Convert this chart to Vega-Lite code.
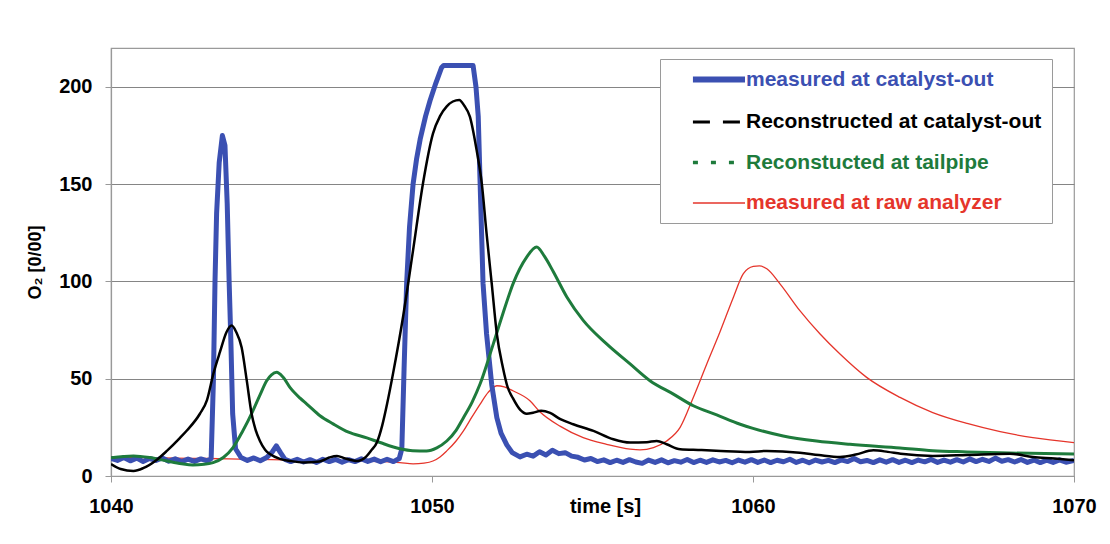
{
  "$schema": "https://vega.github.io/schema/vega-lite/v6.json",
  "width": 963,
  "height": 428,
  "autosize": "none",
  "padding": {"left": 111, "top": 48, "right": 36, "bottom": 68},
  "background": "white",
  "config": {
    "font": "Liberation Sans",
    "view": {"stroke": "#9a9a9a", "strokeWidth": 1.2},
    "axis": {"labelFont": "Liberation Sans", "titleFont": "Liberation Sans"}
  },
  "datasets": {
    "o2": [
      {"t": 1040.0, "o2": 9, "series": "measured at catalyst-out"},
      {"t": 1040.2, "o2": 8, "series": "measured at catalyst-out"},
      {"t": 1040.4, "o2": 9.5, "series": "measured at catalyst-out"},
      {"t": 1040.6, "o2": 7.8, "series": "measured at catalyst-out"},
      {"t": 1040.8, "o2": 9.2, "series": "measured at catalyst-out"},
      {"t": 1041.0, "o2": 7.5, "series": "measured at catalyst-out"},
      {"t": 1041.2, "o2": 9, "series": "measured at catalyst-out"},
      {"t": 1041.4, "o2": 8, "series": "measured at catalyst-out"},
      {"t": 1041.6, "o2": 9.3, "series": "measured at catalyst-out"},
      {"t": 1041.8, "o2": 7.6, "series": "measured at catalyst-out"},
      {"t": 1042.0, "o2": 8.8, "series": "measured at catalyst-out"},
      {"t": 1042.2, "o2": 7.4, "series": "measured at catalyst-out"},
      {"t": 1042.4, "o2": 8.7, "series": "measured at catalyst-out"},
      {"t": 1042.6, "o2": 7.5, "series": "measured at catalyst-out"},
      {"t": 1042.8, "o2": 8.8, "series": "measured at catalyst-out"},
      {"t": 1043.0, "o2": 7.8, "series": "measured at catalyst-out"},
      {"t": 1043.12, "o2": 9, "series": "measured at catalyst-out"},
      {"t": 1043.19, "o2": 49, "series": "measured at catalyst-out"},
      {"t": 1043.24, "o2": 100, "series": "measured at catalyst-out"},
      {"t": 1043.29, "o2": 135, "series": "measured at catalyst-out"},
      {"t": 1043.37, "o2": 161, "series": "measured at catalyst-out"},
      {"t": 1043.47, "o2": 175, "series": "measured at catalyst-out"},
      {"t": 1043.55, "o2": 170, "series": "measured at catalyst-out"},
      {"t": 1043.62, "o2": 140, "series": "measured at catalyst-out"},
      {"t": 1043.68, "o2": 100, "series": "measured at catalyst-out"},
      {"t": 1043.73, "o2": 72, "series": "measured at catalyst-out"},
      {"t": 1043.79, "o2": 32, "series": "measured at catalyst-out"},
      {"t": 1043.88, "o2": 14, "series": "measured at catalyst-out"},
      {"t": 1044.05, "o2": 9.5, "series": "measured at catalyst-out"},
      {"t": 1044.25, "o2": 8, "series": "measured at catalyst-out"},
      {"t": 1044.45, "o2": 9.3, "series": "measured at catalyst-out"},
      {"t": 1044.65, "o2": 7.8, "series": "measured at catalyst-out"},
      {"t": 1044.85, "o2": 9.5, "series": "measured at catalyst-out"},
      {"t": 1045.03, "o2": 12.5, "series": "measured at catalyst-out"},
      {"t": 1045.15, "o2": 15.5, "series": "measured at catalyst-out"},
      {"t": 1045.28, "o2": 12, "series": "measured at catalyst-out"},
      {"t": 1045.42, "o2": 8.5, "series": "measured at catalyst-out"},
      {"t": 1045.6, "o2": 7.4, "series": "measured at catalyst-out"},
      {"t": 1045.8, "o2": 8.6, "series": "measured at catalyst-out"},
      {"t": 1046.0, "o2": 7.2, "series": "measured at catalyst-out"},
      {"t": 1046.2, "o2": 8.4, "series": "measured at catalyst-out"},
      {"t": 1046.4, "o2": 7, "series": "measured at catalyst-out"},
      {"t": 1046.6, "o2": 8.6, "series": "measured at catalyst-out"},
      {"t": 1046.8, "o2": 7.4, "series": "measured at catalyst-out"},
      {"t": 1047.0, "o2": 8.5, "series": "measured at catalyst-out"},
      {"t": 1047.2, "o2": 7.1, "series": "measured at catalyst-out"},
      {"t": 1047.4, "o2": 8.4, "series": "measured at catalyst-out"},
      {"t": 1047.6, "o2": 7.4, "series": "measured at catalyst-out"},
      {"t": 1047.8, "o2": 8.8, "series": "measured at catalyst-out"},
      {"t": 1048.0, "o2": 7.5, "series": "measured at catalyst-out"},
      {"t": 1048.2, "o2": 8.7, "series": "measured at catalyst-out"},
      {"t": 1048.4, "o2": 7.3, "series": "measured at catalyst-out"},
      {"t": 1048.6, "o2": 8.6, "series": "measured at catalyst-out"},
      {"t": 1048.8, "o2": 7.4, "series": "measured at catalyst-out"},
      {"t": 1048.98, "o2": 9, "series": "measured at catalyst-out"},
      {"t": 1049.06, "o2": 14, "series": "measured at catalyst-out"},
      {"t": 1049.13, "o2": 55, "series": "measured at catalyst-out"},
      {"t": 1049.21, "o2": 99, "series": "measured at catalyst-out"},
      {"t": 1049.3, "o2": 128, "series": "measured at catalyst-out"},
      {"t": 1049.41, "o2": 150, "series": "measured at catalyst-out"},
      {"t": 1049.52, "o2": 163, "series": "measured at catalyst-out"},
      {"t": 1049.63, "o2": 173, "series": "measured at catalyst-out"},
      {"t": 1049.8, "o2": 185, "series": "measured at catalyst-out"},
      {"t": 1049.94, "o2": 193, "series": "measured at catalyst-out"},
      {"t": 1050.12, "o2": 202, "series": "measured at catalyst-out"},
      {"t": 1050.3, "o2": 210, "series": "measured at catalyst-out"},
      {"t": 1050.36, "o2": 211, "series": "measured at catalyst-out"},
      {"t": 1051.28, "o2": 211, "series": "measured at catalyst-out"},
      {"t": 1051.37, "o2": 200, "series": "measured at catalyst-out"},
      {"t": 1051.44, "o2": 185, "series": "measured at catalyst-out"},
      {"t": 1051.5, "o2": 150, "series": "measured at catalyst-out"},
      {"t": 1051.59, "o2": 99, "series": "measured at catalyst-out"},
      {"t": 1051.7, "o2": 73, "series": "measured at catalyst-out"},
      {"t": 1051.86, "o2": 47, "series": "measured at catalyst-out"},
      {"t": 1052.02, "o2": 30, "series": "measured at catalyst-out"},
      {"t": 1052.15, "o2": 22, "series": "measured at catalyst-out"},
      {"t": 1052.33, "o2": 16, "series": "measured at catalyst-out"},
      {"t": 1052.5, "o2": 12, "series": "measured at catalyst-out"},
      {"t": 1052.74, "o2": 9.8, "series": "measured at catalyst-out"},
      {"t": 1052.95, "o2": 11.2, "series": "measured at catalyst-out"},
      {"t": 1053.15, "o2": 10.2, "series": "measured at catalyst-out"},
      {"t": 1053.35, "o2": 12.5, "series": "measured at catalyst-out"},
      {"t": 1053.55, "o2": 10.8, "series": "measured at catalyst-out"},
      {"t": 1053.75, "o2": 13.2, "series": "measured at catalyst-out"},
      {"t": 1053.95, "o2": 11.5, "series": "measured at catalyst-out"},
      {"t": 1054.15, "o2": 12, "series": "measured at catalyst-out"},
      {"t": 1054.35, "o2": 10.2, "series": "measured at catalyst-out"},
      {"t": 1054.55, "o2": 9.6, "series": "measured at catalyst-out"},
      {"t": 1054.75, "o2": 8.2, "series": "measured at catalyst-out"},
      {"t": 1054.95, "o2": 9, "series": "measured at catalyst-out"},
      {"t": 1055.15, "o2": 7.4, "series": "measured at catalyst-out"},
      {"t": 1055.35, "o2": 8.3, "series": "measured at catalyst-out"},
      {"t": 1055.55, "o2": 6.9, "series": "measured at catalyst-out"},
      {"t": 1055.75, "o2": 8.1, "series": "measured at catalyst-out"},
      {"t": 1055.95, "o2": 7, "series": "measured at catalyst-out"},
      {"t": 1056.15, "o2": 8.4, "series": "measured at catalyst-out"},
      {"t": 1056.35, "o2": 7.2, "series": "measured at catalyst-out"},
      {"t": 1056.55, "o2": 6.5, "series": "measured at catalyst-out"},
      {"t": 1056.75, "o2": 8.2, "series": "measured at catalyst-out"},
      {"t": 1056.95, "o2": 7, "series": "measured at catalyst-out"},
      {"t": 1057.15, "o2": 8.3, "series": "measured at catalyst-out"},
      {"t": 1057.35, "o2": 6.8, "series": "measured at catalyst-out"},
      {"t": 1057.55, "o2": 7.9, "series": "measured at catalyst-out"},
      {"t": 1057.75, "o2": 7.1, "series": "measured at catalyst-out"},
      {"t": 1057.95, "o2": 8.5, "series": "measured at catalyst-out"},
      {"t": 1058.15, "o2": 6.9, "series": "measured at catalyst-out"},
      {"t": 1058.35, "o2": 8.1, "series": "measured at catalyst-out"},
      {"t": 1058.55, "o2": 7, "series": "measured at catalyst-out"},
      {"t": 1058.75, "o2": 8.3, "series": "measured at catalyst-out"},
      {"t": 1058.95, "o2": 7.2, "series": "measured at catalyst-out"},
      {"t": 1059.15, "o2": 8, "series": "measured at catalyst-out"},
      {"t": 1059.35, "o2": 6.8, "series": "measured at catalyst-out"},
      {"t": 1059.55, "o2": 8.2, "series": "measured at catalyst-out"},
      {"t": 1059.75, "o2": 7.1, "series": "measured at catalyst-out"},
      {"t": 1059.95, "o2": 8.4, "series": "measured at catalyst-out"},
      {"t": 1060.15, "o2": 7, "series": "measured at catalyst-out"},
      {"t": 1060.35, "o2": 8.2, "series": "measured at catalyst-out"},
      {"t": 1060.55, "o2": 6.9, "series": "measured at catalyst-out"},
      {"t": 1060.75, "o2": 8.1, "series": "measured at catalyst-out"},
      {"t": 1060.95, "o2": 7.3, "series": "measured at catalyst-out"},
      {"t": 1061.15, "o2": 8.6, "series": "measured at catalyst-out"},
      {"t": 1061.35, "o2": 7, "series": "measured at catalyst-out"},
      {"t": 1061.55, "o2": 8.1, "series": "measured at catalyst-out"},
      {"t": 1061.75, "o2": 6.8, "series": "measured at catalyst-out"},
      {"t": 1061.95, "o2": 8.2, "series": "measured at catalyst-out"},
      {"t": 1062.15, "o2": 7.2, "series": "measured at catalyst-out"},
      {"t": 1062.35, "o2": 8, "series": "measured at catalyst-out"},
      {"t": 1062.55, "o2": 6.9, "series": "measured at catalyst-out"},
      {"t": 1062.75, "o2": 8.3, "series": "measured at catalyst-out"},
      {"t": 1062.95, "o2": 7.4, "series": "measured at catalyst-out"},
      {"t": 1063.15, "o2": 9, "series": "measured at catalyst-out"},
      {"t": 1063.35, "o2": 7.3, "series": "measured at catalyst-out"},
      {"t": 1063.55, "o2": 8, "series": "measured at catalyst-out"},
      {"t": 1063.75, "o2": 6.9, "series": "measured at catalyst-out"},
      {"t": 1063.95, "o2": 8.3, "series": "measured at catalyst-out"},
      {"t": 1064.15, "o2": 7.1, "series": "measured at catalyst-out"},
      {"t": 1064.35, "o2": 8.4, "series": "measured at catalyst-out"},
      {"t": 1064.55, "o2": 7, "series": "measured at catalyst-out"},
      {"t": 1064.75, "o2": 8.1, "series": "measured at catalyst-out"},
      {"t": 1064.95, "o2": 6.9, "series": "measured at catalyst-out"},
      {"t": 1065.15, "o2": 8.2, "series": "measured at catalyst-out"},
      {"t": 1065.35, "o2": 7.3, "series": "measured at catalyst-out"},
      {"t": 1065.55, "o2": 8.5, "series": "measured at catalyst-out"},
      {"t": 1065.75, "o2": 7, "series": "measured at catalyst-out"},
      {"t": 1065.95, "o2": 8.2, "series": "measured at catalyst-out"},
      {"t": 1066.15, "o2": 7.1, "series": "measured at catalyst-out"},
      {"t": 1066.35, "o2": 8.4, "series": "measured at catalyst-out"},
      {"t": 1066.55, "o2": 7.2, "series": "measured at catalyst-out"},
      {"t": 1066.75, "o2": 8.8, "series": "measured at catalyst-out"},
      {"t": 1066.95, "o2": 7.4, "series": "measured at catalyst-out"},
      {"t": 1067.15, "o2": 8.6, "series": "measured at catalyst-out"},
      {"t": 1067.35, "o2": 7.5, "series": "measured at catalyst-out"},
      {"t": 1067.55, "o2": 9.2, "series": "measured at catalyst-out"},
      {"t": 1067.75, "o2": 7.6, "series": "measured at catalyst-out"},
      {"t": 1067.95, "o2": 8.4, "series": "measured at catalyst-out"},
      {"t": 1068.15, "o2": 7.2, "series": "measured at catalyst-out"},
      {"t": 1068.35, "o2": 8.5, "series": "measured at catalyst-out"},
      {"t": 1068.55, "o2": 7, "series": "measured at catalyst-out"},
      {"t": 1068.75, "o2": 8.2, "series": "measured at catalyst-out"},
      {"t": 1068.95, "o2": 6.9, "series": "measured at catalyst-out"},
      {"t": 1069.15, "o2": 8.1, "series": "measured at catalyst-out"},
      {"t": 1069.35, "o2": 7, "series": "measured at catalyst-out"},
      {"t": 1069.55, "o2": 8.3, "series": "measured at catalyst-out"},
      {"t": 1069.75, "o2": 7.1, "series": "measured at catalyst-out"},
      {"t": 1070.0, "o2": 8, "series": "measured at catalyst-out"},

      {"t": 1040.0, "o2": 6.2, "series": "Reconstructed at catalyst-out"},
      {"t": 1040.3, "o2": 3.6, "series": "Reconstructed at catalyst-out"},
      {"t": 1040.7, "o2": 2.6, "series": "Reconstructed at catalyst-out"},
      {"t": 1041.0, "o2": 4, "series": "Reconstructed at catalyst-out"},
      {"t": 1041.4, "o2": 8, "series": "Reconstructed at catalyst-out"},
      {"t": 1041.74, "o2": 12.9, "series": "Reconstructed at catalyst-out"},
      {"t": 1042.15, "o2": 19.6, "series": "Reconstructed at catalyst-out"},
      {"t": 1042.37, "o2": 23.5, "series": "Reconstructed at catalyst-out"},
      {"t": 1042.77, "o2": 32, "series": "Reconstructed at catalyst-out"},
      {"t": 1042.99, "o2": 39, "series": "Reconstructed at catalyst-out"},
      {"t": 1043.19, "o2": 52.6, "series": "Reconstructed at catalyst-out"},
      {"t": 1043.4, "o2": 64, "series": "Reconstructed at catalyst-out"},
      {"t": 1043.6, "o2": 74, "series": "Reconstructed at catalyst-out"},
      {"t": 1043.76, "o2": 77.3, "series": "Reconstructed at catalyst-out"},
      {"t": 1043.9, "o2": 74, "series": "Reconstructed at catalyst-out"},
      {"t": 1044.07, "o2": 66, "series": "Reconstructed at catalyst-out"},
      {"t": 1044.23, "o2": 49, "series": "Reconstructed at catalyst-out"},
      {"t": 1044.38, "o2": 32, "series": "Reconstructed at catalyst-out"},
      {"t": 1044.5, "o2": 24, "series": "Reconstructed at catalyst-out"},
      {"t": 1044.64, "o2": 18, "series": "Reconstructed at catalyst-out"},
      {"t": 1044.8, "o2": 13.5, "series": "Reconstructed at catalyst-out"},
      {"t": 1044.95, "o2": 11.3, "series": "Reconstructed at catalyst-out"},
      {"t": 1045.26, "o2": 8.8, "series": "Reconstructed at catalyst-out"},
      {"t": 1045.6, "o2": 7.7, "series": "Reconstructed at catalyst-out"},
      {"t": 1046.0, "o2": 7, "series": "Reconstructed at catalyst-out"},
      {"t": 1046.5, "o2": 7.5, "series": "Reconstructed at catalyst-out"},
      {"t": 1046.8, "o2": 9.5, "series": "Reconstructed at catalyst-out"},
      {"t": 1047.04, "o2": 10.3, "series": "Reconstructed at catalyst-out"},
      {"t": 1047.3, "o2": 9, "series": "Reconstructed at catalyst-out"},
      {"t": 1047.66, "o2": 7.7, "series": "Reconstructed at catalyst-out"},
      {"t": 1047.95, "o2": 10, "series": "Reconstructed at catalyst-out"},
      {"t": 1048.1, "o2": 13, "series": "Reconstructed at catalyst-out"},
      {"t": 1048.29, "o2": 17.5, "series": "Reconstructed at catalyst-out"},
      {"t": 1048.45, "o2": 26, "series": "Reconstructed at catalyst-out"},
      {"t": 1048.6, "o2": 37, "series": "Reconstructed at catalyst-out"},
      {"t": 1048.79, "o2": 53, "series": "Reconstructed at catalyst-out"},
      {"t": 1049.1, "o2": 82, "series": "Reconstructed at catalyst-out"},
      {"t": 1049.41, "o2": 116, "series": "Reconstructed at catalyst-out"},
      {"t": 1049.72, "o2": 150.5, "series": "Reconstructed at catalyst-out"},
      {"t": 1050.03, "o2": 176, "series": "Reconstructed at catalyst-out"},
      {"t": 1050.25, "o2": 185, "series": "Reconstructed at catalyst-out"},
      {"t": 1050.46, "o2": 190, "series": "Reconstructed at catalyst-out"},
      {"t": 1050.65, "o2": 192.5, "series": "Reconstructed at catalyst-out"},
      {"t": 1050.85, "o2": 193.3, "series": "Reconstructed at catalyst-out"},
      {"t": 1051.0, "o2": 190.5, "series": "Reconstructed at catalyst-out"},
      {"t": 1051.18, "o2": 184.7, "series": "Reconstructed at catalyst-out"},
      {"t": 1051.39, "o2": 167.5, "series": "Reconstructed at catalyst-out"},
      {"t": 1051.55, "o2": 150.5, "series": "Reconstructed at catalyst-out"},
      {"t": 1051.7, "o2": 124.7, "series": "Reconstructed at catalyst-out"},
      {"t": 1051.86, "o2": 99, "series": "Reconstructed at catalyst-out"},
      {"t": 1052.02, "o2": 73, "series": "Reconstructed at catalyst-out"},
      {"t": 1052.21, "o2": 55.7, "series": "Reconstructed at catalyst-out"},
      {"t": 1052.35, "o2": 46, "series": "Reconstructed at catalyst-out"},
      {"t": 1052.52, "o2": 40, "series": "Reconstructed at catalyst-out"},
      {"t": 1052.75, "o2": 34, "series": "Reconstructed at catalyst-out"},
      {"t": 1052.95, "o2": 32, "series": "Reconstructed at catalyst-out"},
      {"t": 1053.15, "o2": 32.5, "series": "Reconstructed at catalyst-out"},
      {"t": 1053.4, "o2": 33.5, "series": "Reconstructed at catalyst-out"},
      {"t": 1053.68, "o2": 32.4, "series": "Reconstructed at catalyst-out"},
      {"t": 1054.0, "o2": 29.2, "series": "Reconstructed at catalyst-out"},
      {"t": 1054.4, "o2": 26.6, "series": "Reconstructed at catalyst-out"},
      {"t": 1055.03, "o2": 23.2, "series": "Reconstructed at catalyst-out"},
      {"t": 1055.65, "o2": 18.9, "series": "Reconstructed at catalyst-out"},
      {"t": 1056.17, "o2": 17.2, "series": "Reconstructed at catalyst-out"},
      {"t": 1056.69, "o2": 17.4, "series": "Reconstructed at catalyst-out"},
      {"t": 1057.0, "o2": 18, "series": "Reconstructed at catalyst-out"},
      {"t": 1057.31, "o2": 16.3, "series": "Reconstructed at catalyst-out"},
      {"t": 1057.73, "o2": 13.8, "series": "Reconstructed at catalyst-out"},
      {"t": 1058.4, "o2": 13.4, "series": "Reconstructed at catalyst-out"},
      {"t": 1059.0, "o2": 12.9, "series": "Reconstructed at catalyst-out"},
      {"t": 1059.9, "o2": 12.4, "series": "Reconstructed at catalyst-out"},
      {"t": 1060.43, "o2": 12.9, "series": "Reconstructed at catalyst-out"},
      {"t": 1061.46, "o2": 12, "series": "Reconstructed at catalyst-out"},
      {"t": 1062.05, "o2": 10.8, "series": "Reconstructed at catalyst-out"},
      {"t": 1062.71, "o2": 9.8, "series": "Reconstructed at catalyst-out"},
      {"t": 1063.2, "o2": 11, "series": "Reconstructed at catalyst-out"},
      {"t": 1063.75, "o2": 13.2, "series": "Reconstructed at catalyst-out"},
      {"t": 1064.2, "o2": 12.4, "series": "Reconstructed at catalyst-out"},
      {"t": 1064.6, "o2": 11.4, "series": "Reconstructed at catalyst-out"},
      {"t": 1065.6, "o2": 10.3, "series": "Reconstructed at catalyst-out"},
      {"t": 1066.67, "o2": 10.8, "series": "Reconstructed at catalyst-out"},
      {"t": 1068.0, "o2": 11.5, "series": "Reconstructed at catalyst-out"},
      {"t": 1068.72, "o2": 9.8, "series": "Reconstructed at catalyst-out"},
      {"t": 1069.4, "o2": 9, "series": "Reconstructed at catalyst-out"},
      {"t": 1070.0, "o2": 8.1, "series": "Reconstructed at catalyst-out"},

      {"t": 1040.0, "o2": 9.4, "series": "Reconstucted at tailpipe"},
      {"t": 1040.7, "o2": 10.3, "series": "Reconstucted at tailpipe"},
      {"t": 1041.2, "o2": 9.5, "series": "Reconstucted at tailpipe"},
      {"t": 1041.74, "o2": 7.7, "series": "Reconstucted at tailpipe"},
      {"t": 1042.2, "o2": 6.3, "series": "Reconstucted at tailpipe"},
      {"t": 1042.55, "o2": 5.7, "series": "Reconstucted at tailpipe"},
      {"t": 1042.9, "o2": 6, "series": "Reconstucted at tailpipe"},
      {"t": 1043.18, "o2": 6.9, "series": "Reconstucted at tailpipe"},
      {"t": 1043.5, "o2": 9.5, "series": "Reconstucted at tailpipe"},
      {"t": 1043.8, "o2": 14.6, "series": "Reconstucted at tailpipe"},
      {"t": 1044.1, "o2": 23, "series": "Reconstucted at tailpipe"},
      {"t": 1044.42, "o2": 33.5, "series": "Reconstucted at tailpipe"},
      {"t": 1044.65, "o2": 42, "series": "Reconstucted at tailpipe"},
      {"t": 1044.85, "o2": 49, "series": "Reconstucted at tailpipe"},
      {"t": 1045.0, "o2": 52, "series": "Reconstucted at tailpipe"},
      {"t": 1045.16, "o2": 53.3, "series": "Reconstucted at tailpipe"},
      {"t": 1045.35, "o2": 51, "series": "Reconstucted at tailpipe"},
      {"t": 1045.58, "o2": 45.4, "series": "Reconstucted at tailpipe"},
      {"t": 1045.89, "o2": 40, "series": "Reconstucted at tailpipe"},
      {"t": 1046.1, "o2": 37, "series": "Reconstucted at tailpipe"},
      {"t": 1046.51, "o2": 31, "series": "Reconstucted at tailpipe"},
      {"t": 1046.92, "o2": 26.8, "series": "Reconstucted at tailpipe"},
      {"t": 1047.4, "o2": 22.5, "series": "Reconstucted at tailpipe"},
      {"t": 1047.97, "o2": 19.6, "series": "Reconstucted at tailpipe"},
      {"t": 1048.38, "o2": 17.2, "series": "Reconstucted at tailpipe"},
      {"t": 1049.0, "o2": 14, "series": "Reconstucted at tailpipe"},
      {"t": 1049.4, "o2": 13, "series": "Reconstucted at tailpipe"},
      {"t": 1049.83, "o2": 12.9, "series": "Reconstucted at tailpipe"},
      {"t": 1050.15, "o2": 14.5, "series": "Reconstucted at tailpipe"},
      {"t": 1050.46, "o2": 18, "series": "Reconstucted at tailpipe"},
      {"t": 1050.75, "o2": 23.5, "series": "Reconstucted at tailpipe"},
      {"t": 1050.98, "o2": 30, "series": "Reconstucted at tailpipe"},
      {"t": 1051.25, "o2": 38, "series": "Reconstucted at tailpipe"},
      {"t": 1051.5, "o2": 47.4, "series": "Reconstucted at tailpipe"},
      {"t": 1051.91, "o2": 67.9, "series": "Reconstucted at tailpipe"},
      {"t": 1052.2, "o2": 83, "series": "Reconstucted at tailpipe"},
      {"t": 1052.53, "o2": 99, "series": "Reconstucted at tailpipe"},
      {"t": 1052.95, "o2": 112.5, "series": "Reconstucted at tailpipe"},
      {"t": 1053.26, "o2": 117.7, "series": "Reconstucted at tailpipe"},
      {"t": 1053.5, "o2": 113, "series": "Reconstucted at tailpipe"},
      {"t": 1053.78, "o2": 105, "series": "Reconstucted at tailpipe"},
      {"t": 1054.2, "o2": 92, "series": "Reconstucted at tailpipe"},
      {"t": 1054.71, "o2": 80, "series": "Reconstucted at tailpipe"},
      {"t": 1055.44, "o2": 67.9, "series": "Reconstucted at tailpipe"},
      {"t": 1056.17, "o2": 57.6, "series": "Reconstucted at tailpipe"},
      {"t": 1056.79, "o2": 49, "series": "Reconstucted at tailpipe"},
      {"t": 1057.52, "o2": 42.1, "series": "Reconstucted at tailpipe"},
      {"t": 1058.14, "o2": 36.1, "series": "Reconstucted at tailpipe"},
      {"t": 1058.87, "o2": 31.4, "series": "Reconstucted at tailpipe"},
      {"t": 1059.6, "o2": 26.6, "series": "Reconstucted at tailpipe"},
      {"t": 1060.0, "o2": 24.5, "series": "Reconstucted at tailpipe"},
      {"t": 1060.94, "o2": 20.6, "series": "Reconstucted at tailpipe"},
      {"t": 1061.98, "o2": 18, "series": "Reconstucted at tailpipe"},
      {"t": 1063.02, "o2": 16.3, "series": "Reconstucted at tailpipe"},
      {"t": 1064.58, "o2": 14.4, "series": "Reconstucted at tailpipe"},
      {"t": 1065.6, "o2": 13, "series": "Reconstucted at tailpipe"},
      {"t": 1066.67, "o2": 12.4, "series": "Reconstucted at tailpipe"},
      {"t": 1067.7, "o2": 11.9, "series": "Reconstucted at tailpipe"},
      {"t": 1070.0, "o2": 11.3, "series": "Reconstucted at tailpipe"},

      {"t": 1040.0, "o2": 9.8, "series": "measured at raw analyzer"},
      {"t": 1041.0, "o2": 9.5, "series": "measured at raw analyzer"},
      {"t": 1042.0, "o2": 9.2, "series": "measured at raw analyzer"},
      {"t": 1043.0, "o2": 9, "series": "measured at raw analyzer"},
      {"t": 1044.0, "o2": 8.7, "series": "measured at raw analyzer"},
      {"t": 1045.0, "o2": 8.4, "series": "measured at raw analyzer"},
      {"t": 1046.0, "o2": 8.1, "series": "measured at raw analyzer"},
      {"t": 1047.0, "o2": 7.8, "series": "measured at raw analyzer"},
      {"t": 1048.0, "o2": 7.6, "series": "measured at raw analyzer"},
      {"t": 1048.5, "o2": 7.4, "series": "measured at raw analyzer"},
      {"t": 1049.0, "o2": 6.9, "series": "measured at raw analyzer"},
      {"t": 1049.41, "o2": 6.2, "series": "measured at raw analyzer"},
      {"t": 1049.75, "o2": 6.6, "series": "measured at raw analyzer"},
      {"t": 1050.03, "o2": 7.7, "series": "measured at raw analyzer"},
      {"t": 1050.25, "o2": 9.8, "series": "measured at raw analyzer"},
      {"t": 1050.46, "o2": 12.9, "series": "measured at raw analyzer"},
      {"t": 1050.75, "o2": 18, "series": "measured at raw analyzer"},
      {"t": 1050.98, "o2": 23.2, "series": "measured at raw analyzer"},
      {"t": 1051.25, "o2": 30.5, "series": "measured at raw analyzer"},
      {"t": 1051.5, "o2": 37, "series": "measured at raw analyzer"},
      {"t": 1051.75, "o2": 43, "series": "measured at raw analyzer"},
      {"t": 1052.02, "o2": 46.4, "series": "measured at raw analyzer"},
      {"t": 1052.25, "o2": 45.8, "series": "measured at raw analyzer"},
      {"t": 1052.52, "o2": 43.8, "series": "measured at raw analyzer"},
      {"t": 1053.05, "o2": 38.7, "series": "measured at raw analyzer"},
      {"t": 1053.36, "o2": 33, "series": "measured at raw analyzer"},
      {"t": 1054.0, "o2": 25.5, "series": "measured at raw analyzer"},
      {"t": 1054.71, "o2": 19.7, "series": "measured at raw analyzer"},
      {"t": 1055.44, "o2": 16.3, "series": "measured at raw analyzer"},
      {"t": 1056.17, "o2": 13.8, "series": "measured at raw analyzer"},
      {"t": 1056.48, "o2": 13.4, "series": "measured at raw analyzer"},
      {"t": 1056.9, "o2": 14.6, "series": "measured at raw analyzer"},
      {"t": 1057.31, "o2": 18, "series": "measured at raw analyzer"},
      {"t": 1057.73, "o2": 25, "series": "measured at raw analyzer"},
      {"t": 1058.14, "o2": 40.4, "series": "measured at raw analyzer"},
      {"t": 1058.56, "o2": 57.6, "series": "measured at raw analyzer"},
      {"t": 1058.97, "o2": 74, "series": "measured at raw analyzer"},
      {"t": 1059.39, "o2": 91.9, "series": "measured at raw analyzer"},
      {"t": 1059.7, "o2": 104, "series": "measured at raw analyzer"},
      {"t": 1060.01, "o2": 107.7, "series": "measured at raw analyzer"},
      {"t": 1060.2, "o2": 108, "series": "measured at raw analyzer"},
      {"t": 1060.43, "o2": 106.5, "series": "measured at raw analyzer"},
      {"t": 1060.84, "o2": 98.8, "series": "measured at raw analyzer"},
      {"t": 1061.46, "o2": 85, "series": "measured at raw analyzer"},
      {"t": 1062.09, "o2": 73, "series": "measured at raw analyzer"},
      {"t": 1062.71, "o2": 62.7, "series": "measured at raw analyzer"},
      {"t": 1063.54, "o2": 50.7, "series": "measured at raw analyzer"},
      {"t": 1064.58, "o2": 40.4, "series": "measured at raw analyzer"},
      {"t": 1065.6, "o2": 32.6, "series": "measured at raw analyzer"},
      {"t": 1066.67, "o2": 27, "series": "measured at raw analyzer"},
      {"t": 1067.7, "o2": 22.8, "series": "measured at raw analyzer"},
      {"t": 1068.72, "o2": 19.7, "series": "measured at raw analyzer"},
      {"t": 1070.0, "o2": 17.2, "series": "measured at raw analyzer"}
    ]
  },
  "data": {"name": "o2"},
  "encoding": {
    "x": {
      "field": "t", "type": "quantitative",
      "scale": {"domain": [1040, 1070], "nice": false, "zero": false},
      "axis": {
        "values": [1040, 1050, 1060, 1070],
        "format": "d",
        "grid": false,
        "title": "time [s]",
        "titleFontSize": 20, "titleFontWeight": "bold", "titleColor": "#000",
        "titleX": 494, "titleY": 20, "titleBaseline": "top", "titleAlign": "center",
        "labelFontSize": 20, "labelFontWeight": "bold", "labelColor": "#000",
        "labelPadding": 14, "labelFlush": false,
        "tickSize": 6, "tickColor": "#999", "domainColor": "#999", "domainWidth": 1.2
      }
    },
    "y": {
      "field": "o2", "type": "quantitative",
      "scale": {"domain": [0, 220], "nice": false},
      "axis": {
        "values": [0, 50, 100, 150, 200],
        "grid": true, "gridColor": "#858585", "gridWidth": 1.2,
        "title": "O₂ [0/00]",
        "titleFontSize": 18, "titleFontWeight": "bold", "titleColor": "#000", "titlePadding": 14,
        "labelFontSize": 20, "labelFontWeight": "bold", "labelColor": "#000",
        "labelPadding": 13,
        "tickSize": 6, "tickColor": "#999", "domainColor": "#999", "domainWidth": 1.2
      }
    },
    "color": {
      "field": "series", "type": "nominal",
      "scale": {
        "domain": ["measured at catalyst-out", "Reconstructed at catalyst-out", "Reconstucted at tailpipe", "measured at raw analyzer"],
        "range": ["#3b50b2", "#000000", "#1e7b3c", "#e5352b"]
      },
      "legend": {
        "title": null,
        "orient": "none",
        "legendX": 549,
        "legendY": 11,
        "direction": "vertical",
        "fillColor": "white",
        "strokeColor": "#9a9a9a",
        "padding": 10,
        "symbolType": "M-1.54,0H1",
        "symbolSize": 1681,
        "symbolStrokeWidth": 2.5,
        "symbolOffset": 44,
        "rowPadding": 18.5,
        "labelOffset": 11,
        "labelFontSize": 21,
        "labelFontWeight": "bold",
        "labelLimit": 400,
        "labelExpr": "datum.label + '\u00a0\u00a0'",
        "encode": {
          "labels": {"update": {"fill": {"scale": "color", "field": "value"}}},
          "symbols": {"update": {
            "strokeWidth": {"signal": "datum.value === 'measured at catalyst-out' ? 6 : datum.value === 'measured at raw analyzer' ? 1.3 : datum.value === 'Reconstucted at tailpipe' ? 3.5 : 3"},
            "strokeDash": {"signal": "datum.value === 'Reconstructed at catalyst-out' ? [17, 13] : datum.value === 'Reconstucted at tailpipe' ? [5, 13] : [1, 0]"}
          }}
        }
      }
    }
  },
  "layer": [
    {
      "transform": [{"filter": "datum.series === 'measured at raw analyzer'"}],
      "mark": {"type": "line", "strokeWidth": 1.3, "interpolate": "monotone", "clip": true}
    },
    {
      "transform": [{"filter": "datum.series === 'measured at catalyst-out'"}],
      "mark": {"type": "line", "strokeWidth": 5, "interpolate": "linear", "strokeJoin": "round", "clip": true}
    },
    {
      "transform": [{"filter": "datum.series === 'Reconstucted at tailpipe'"}],
      "mark": {"type": "line", "strokeWidth": 3, "interpolate": "monotone", "clip": true}
    },
    {
      "transform": [{"filter": "datum.series === 'Reconstructed at catalyst-out'"}],
      "mark": {"type": "line", "strokeWidth": 2.5, "interpolate": "monotone", "clip": true}
    }
  ]
}
